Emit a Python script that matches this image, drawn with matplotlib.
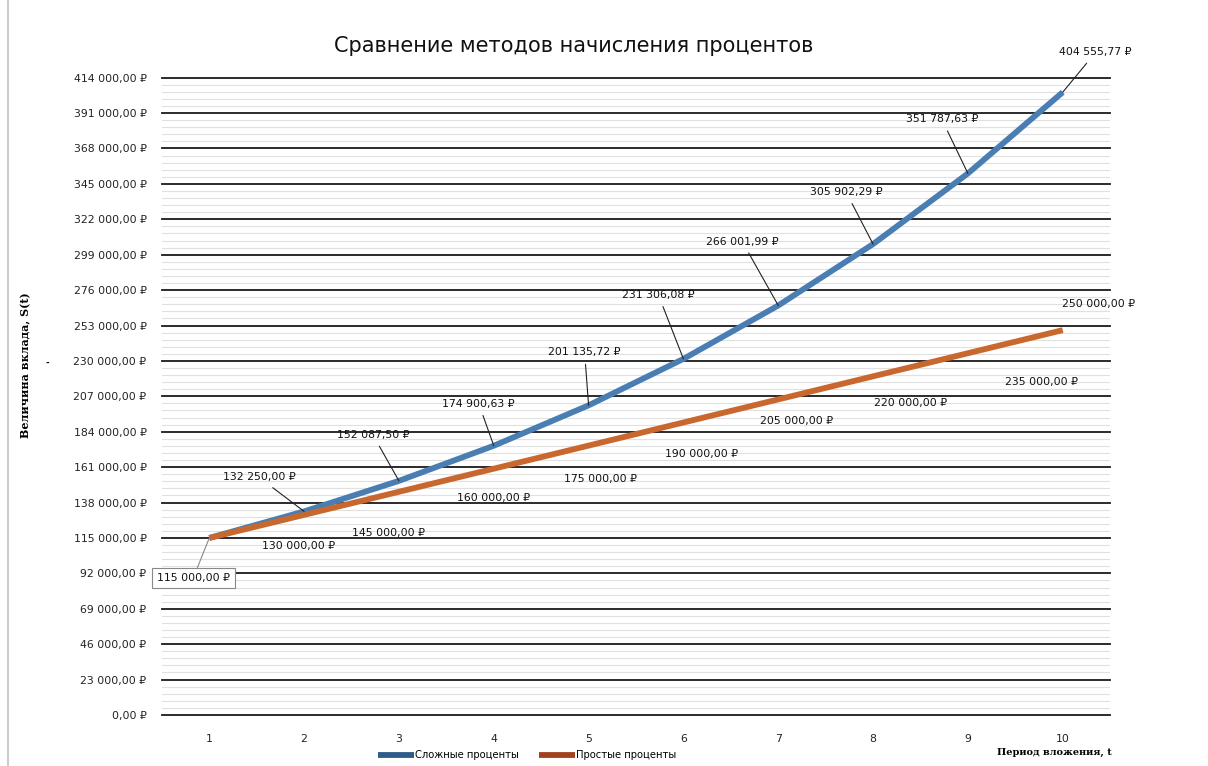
import numpy as np
import matplotlib
matplotlib.use("Agg")
import matplotlib.pyplot as plt
from matplotlib.ticker import MultipleLocator, FuncFormatter

# data
periods = [1, 2, 3, 4, 5, 6, 7, 8, 9, 10]
compound = [115000.00, 132250.00, 152087.50, 174900.63, 201135.72,
            231306.08, 266001.99, 305902.29, 351787.63, 404555.77]
simple = [115000, 130000, 145000, 160000, 175000,
          190000, 205000, 220000, 235000, 250000]

# label offsets in pixels (dx, dy)
compound_offsets = [(-16, -40), (-45, 34), (-26, 46), (-15, 42), (-4, 53),
                    (-25, 64), (-36, 64), (-27, 52), (-26, 54), (33, 40)]
simple_offsets = [None, (-6, -31), (-10, -41), (0, -29), (12, -33),
                  (18, -32), (18, -22), (37, -27), (74, -29), (36, 26)]


def rub(v, pos=None):
    s = f"{v:,.2f}".replace(",", " ").replace(".", ",")
    return s + " ₽"


fig = plt.figure(figsize=(12.08, 7.66), dpi=100)
ax = fig.add_axes([0.134, 0.0666, 0.785, 0.832])

ax.set_xlim(0.5, 10.5)
ax.set_ylim(0, 414000)
ax.yaxis.set_major_locator(MultipleLocator(23000))
ax.yaxis.set_minor_locator(MultipleLocator(4600))
ax.yaxis.set_major_formatter(FuncFormatter(rub))
ax.set_xticks(periods)
ax.grid(which="major", axis="y", color="#1a1a1a", lw=1.3)
ax.grid(which="minor", axis="y", color="#e0e0e0", lw=0.8)
ax.set_axisbelow(True)
for gl in ax.get_ygridlines():
    gl.set_clip_on(False)
for sp in ax.spines.values():
    sp.set_visible(False)
ax.tick_params(which="both", length=0)
ax.tick_params(axis="y", labelsize=7.8, pad=11, labelcolor="#222222")
ax.tick_params(axis="x", labelsize=7.8, pad=14, labelcolor="#222222")

l1, = ax.plot(periods, compound, color="#4a7eb2", lw=4.2,
              solid_capstyle="butt", label="Сложные проценты", zorder=3)
l2, = ax.plot(periods, simple, color="#c8682f", lw=4.2,
              solid_capstyle="butt", label="Простые проценты", zorder=3)

for x, y, off in zip(periods, compound, compound_offsets):
    kw = dict(fontsize=7.8, ha="center", va="center", color="#111111",
              textcoords="offset pixels", zorder=5,
              arrowprops=dict(arrowstyle="-", color="#222222", lw=0.8,
                              shrinkA=3, shrinkB=0))
    if x == 1:
        kw["bbox"] = dict(boxstyle="square,pad=0.45", fc="white", ec="#888888", lw=0.8)
        kw["arrowprops"] = dict(arrowstyle="-", color="#888888", lw=0.8,
                                shrinkA=0, shrinkB=0)
    ax.annotate(rub(y), (x, y), xytext=off, **kw)

for x, y, off in zip(periods, simple, simple_offsets):
    if off is None:
        continue
    ax.annotate(rub(y), (x, y), xytext=off, fontsize=7.8, ha="center",
                va="center", color="#111111", textcoords="offset pixels",
                zorder=5)

fig.text(0.475, 0.94, "Сравнение методов начисления процентов",
         fontsize=15, ha="center", va="center", color="#111111")
fig.text(0.021, 0.523, "Величина вклада, S(t)", rotation=90, ha="center",
         va="center", fontsize=8, family="DejaVu Serif", weight="bold")
fig.text(0.039, 0.525, "-", ha="center", va="center", fontsize=6, weight="bold")
fig.text(0.873, 0.018, "Период вложения, t", ha="center", va="center",
         fontsize=7, family="DejaVu Serif", weight="bold")

leg = fig.legend(handles=[l1, l2], loc="center", bbox_to_anchor=(0.436, 0.014),
                 ncol=2, frameon=False, fontsize=7.2, handlelength=3.6,
                 columnspacing=2.0, handletextpad=0.1)
leg.get_lines()[0].set_color("#2e5c8a")
leg.get_lines()[1].set_color("#a3421f")

fig.add_artist(plt.Line2D([0.007, 0.007], [0.0, 1.0], color="#cccccc", lw=1.5))

fig.savefig("out.png", dpi=100)
